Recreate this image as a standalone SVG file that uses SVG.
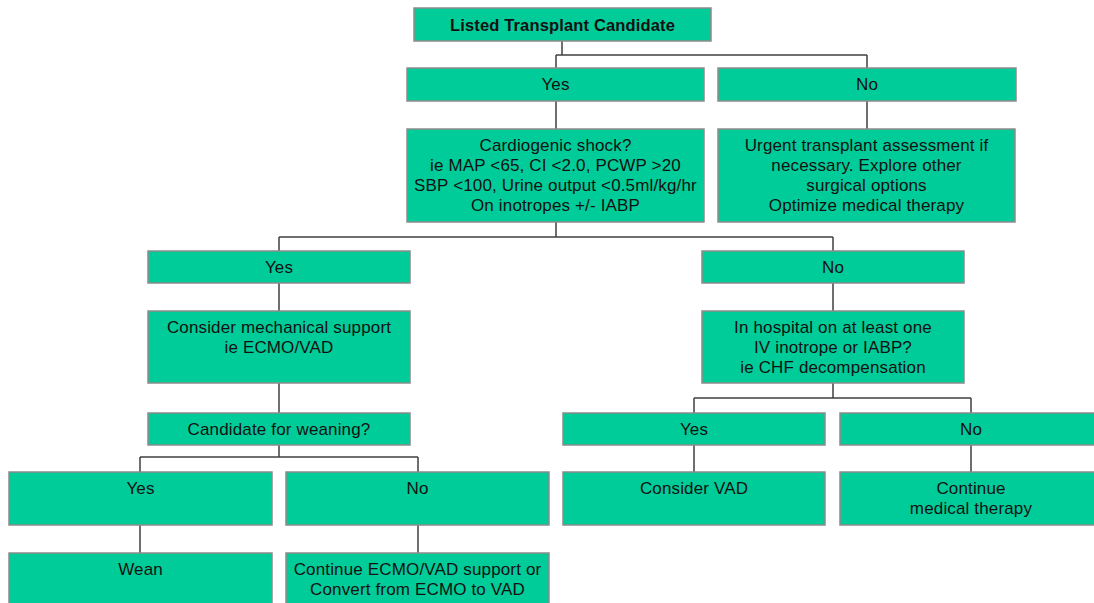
<svg xmlns="http://www.w3.org/2000/svg" width="1094" height="603" viewBox="0 0 1094 603">
<style>
.b{fill:#00cc99;stroke:#8c8c8c;stroke-width:1.5}
.t{font-family:"Liberation Sans",Arial,sans-serif;font-size:17px;letter-spacing:0.15px;fill:#111;text-anchor:middle}
.bold{font-weight:bold;font-size:16.5px}
.c{fill:none;stroke:#404040;stroke-width:1.5}
</style>
<rect width="1094" height="603" fill="#fff"/>
<g id="connectors" class="c">
<path d="M562 41V55M556 55H867M556 55V68M867 55V68"/>
<path d="M556 101V129M867 101V129"/>
<path d="M556 222V237M279 237H833M279 237V251M833 237V251"/>
<path d="M279 283V311M833 283V311"/>
<path d="M279 383V413"/>
<path d="M279 445V457M140 457H418M140 457V472M418 457V472"/>
<path d="M833 383V398M694 398H971M694 398V413M971 398V413"/>
<path d="M694 445V472M971 445V472"/>
<path d="M140 525V553M418 525V553"/>
</g>
<g id="n-top"><rect class="b" x="414" y="8" width="297" height="33"/><text class="t bold" x="562.5" y="31">Listed Transplant Candidate</text></g>
<g id="n-yes1"><rect class="b" x="407" y="68" width="297" height="33"/><text class="t" x="555.5" y="90">Yes</text></g>
<g id="n-no1"><rect class="b" x="718" y="68" width="298" height="33"/><text class="t" x="867" y="90">No</text></g>
<g id="n-cardio"><rect class="b" x="407" y="129" width="297" height="93"/><text class="t" x="555.5" y="151">Cardiogenic shock?<tspan x="555.5" dy="20">ie MAP &lt;65, CI &lt;2.0, PCWP &gt;20</tspan><tspan x="555.5" dy="20">SBP &lt;100, Urine output &lt;0.5ml/kg/hr</tspan><tspan x="555.5" dy="20">On inotropes +/- IABP</tspan></text></g>
<g id="n-urgent"><rect class="b" x="718" y="129" width="297" height="93"/><text class="t" x="866.5" y="151">Urgent transplant assessment if<tspan x="866.5" dy="20">necessary. Explore other</tspan><tspan x="866.5" dy="20">surgical options</tspan><tspan x="866.5" dy="20">Optimize medical therapy</tspan></text></g>
<g id="n-yes2"><rect class="b" x="148" y="251" width="262" height="32"/><text class="t" x="279" y="273">Yes</text></g>
<g id="n-no2"><rect class="b" x="702" y="251" width="262" height="32"/><text class="t" x="833" y="273">No</text></g>
<g id="n-mech"><rect class="b" x="148" y="311" width="262" height="72"/><text class="t" x="279" y="333">Consider mechanical support<tspan x="279" dy="20">ie ECMO/VAD</tspan></text></g>
<g id="n-hosp"><rect class="b" x="702" y="311" width="262" height="72"/><text class="t" x="833" y="333">In hospital on at least one<tspan x="833" dy="20">IV inotrope or IABP?</tspan><tspan x="833" dy="20">ie CHF decompensation</tspan></text></g>
<g id="n-cand"><rect class="b" x="148" y="413" width="262" height="32"/><text class="t" x="279" y="435">Candidate for weaning?</text></g>
<g id="n-yes3"><rect class="b" x="563" y="413" width="262" height="32"/><text class="t" x="694" y="435">Yes</text></g>
<g id="n-no3"><rect class="b" x="840" y="413" width="262" height="32"/><text class="t" x="971" y="435">No</text></g>
<g id="n-yes4"><rect class="b" x="9" y="472" width="263" height="53"/><text class="t" x="140.5" y="494">Yes</text></g>
<g id="n-no4"><rect class="b" x="286" y="472" width="263" height="53"/><text class="t" x="417.5" y="494">No</text></g>
<g id="n-vad"><rect class="b" x="563" y="472" width="262" height="53"/><text class="t" x="694" y="494">Consider VAD</text></g>
<g id="n-cont"><rect class="b" x="840" y="472" width="262" height="53"/><text class="t" x="971" y="494">Continue<tspan x="971" dy="20">medical therapy</tspan></text></g>
<g id="n-wean"><rect class="b" x="9" y="553" width="263" height="52"/><text class="t" x="140.5" y="575">Wean</text></g>
<g id="n-ecmo"><rect class="b" x="286" y="553" width="263" height="52"/><text class="t" x="417.5" y="575">Continue ECMO/VAD support or<tspan x="417.5" dy="20">Convert from ECMO to VAD</tspan></text></g>
</svg>
